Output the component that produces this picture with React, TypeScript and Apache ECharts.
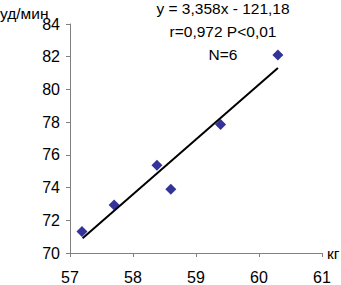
import React, { useEffect, useRef } from "react";
import * as echarts from "echarts";

const massKg = [57.19, 57.7, 58.38, 58.6, 59.39, 60.3];
const heartRate = [71.32, 72.94, 75.37, 73.9, 77.85, 82.1];
const slope = 3.358;
const intercept = -121.18;
const trendX = [57.2, 60.3];
const equationLines = ["y = 3,358x - 121,18", "r=0,972 P<0,01", "N=6"];
const yAxisName = "уд/мин";
const xAxisName = "кг";

export default function App() {
  const ref = useRef<HTMLDivElement>(null);
  useEffect(() => {
    if (!ref.current) return;
    const chart = echarts.init(ref.current, null, { renderer: "svg" });
    const font = "'Liberation Sans', Arial, sans-serif";
    const axisColor = "#808080";
    chart.setOption({
      animation: false,
      backgroundColor: "#ffffff",
      grid: { left: 70, right: 19, top: 24, bottom: 31, containLabel: false },
      xAxis: {
        type: "value",
        min: 57,
        max: 61,
        interval: 1,
        axisLine: { show: true, lineStyle: { color: axisColor, width: 1 } },
        axisTick: { show: true, length: 4, lineStyle: { color: axisColor } },
        splitLine: { show: false },
        axisLabel: { color: "#000", fontFamily: font, fontSize: 16, margin: 16 },
      },
      yAxis: {
        type: "value",
        min: 70,
        max: 84,
        interval: 2,
        axisLine: { show: true, lineStyle: { color: axisColor, width: 1 } },
        axisTick: { show: true, length: 4, lineStyle: { color: axisColor } },
        splitLine: { show: false },
        axisLabel: { color: "#000", fontFamily: font, fontSize: 16, margin: 10 },
      },
      series: [
        {
          type: "line",
          data: trendX.map((x) => [x, slope * x + intercept]),
          symbol: "none",
          lineStyle: { color: "#000", width: 2 },
          z: 2,
        },
        {
          type: "scatter",
          data: massKg.map((x, i) => [x, heartRate[i]]),
          symbol: "diamond",
          symbolSize: 11,
          itemStyle: { color: "#000080" },
          z: 3,
        },
      ],
      graphic: [
        ...equationLines.map((t, i) => ({
          type: "text",
          x: 223,
          y: 8 + i * 23,
          style: {
            text: t,
            fill: "#000",
            font: `15.5px ${font}`,
            textAlign: "center",
            textVerticalAlign: "middle",
          },
        })),
        {
          type: "text",
          x: 0,
          y: 13,
          style: { text: yAxisName, fill: "#000", font: `15.5px ${font}`, textAlign: "left", textVerticalAlign: "middle" },
        },
        {
          type: "text",
          x: 327,
          y: 253,
          style: { text: xAxisName, fill: "#000", font: `15.5px ${font}`, textAlign: "left", textVerticalAlign: "middle" },
        },
      ],
    });
    return () => chart.dispose();
  }, []);
  return <div ref={ref} style={{ width: 341, height: 285, position: "absolute", left: 0, top: 0 }} />;
}
